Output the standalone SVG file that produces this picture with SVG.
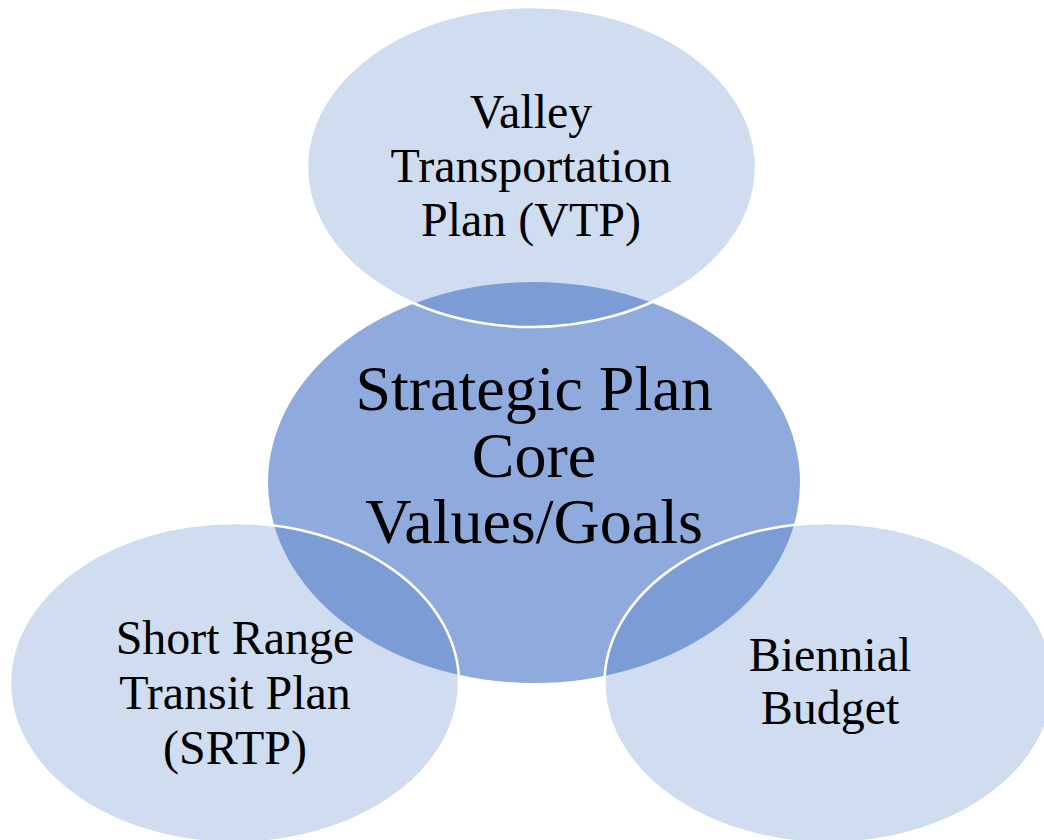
<svg xmlns="http://www.w3.org/2000/svg" width="1044" height="840" viewBox="0 0 1044 840">
<style>
.center{fill:#4472c4;fill-opacity:0.6;stroke:none}
.outer{fill:#4472c4;fill-opacity:0.25;stroke:#ffffff;stroke-width:2.5}
.lbl{font-family:"Liberation Serif","Times New Roman",serif;fill:#000000;text-anchor:middle}
.small{font-size:48px}
.big{font-size:64px}
</style>
<rect width="1044" height="840" fill="#ffffff"/>
<g id="core">
<ellipse class="center" cx="534" cy="482.5" rx="266" ry="200.5"/>
</g>
<g id="vtp">
<ellipse class="outer" cx="531.5" cy="167" rx="224.5" ry="160"/>
<text class="lbl small" x="531" y="128">Valley</text>
<text class="lbl small" x="531" y="182">Transportation</text>
<text class="lbl small" x="531" y="236">Plan (VTP)</text>
</g>
<g id="srtp">
<ellipse class="outer" cx="234.5" cy="683" rx="224.5" ry="160"/>
<text class="lbl small" x="235" y="654">Short Range</text>
<text class="lbl small" x="235" y="709">Transit Plan</text>
<text class="lbl small" x="235" y="764">(SRTP)</text>
</g>
<g id="budget">
<ellipse class="outer" cx="829" cy="683" rx="224.5" ry="160"/>
<text class="lbl small" x="830" y="671">Biennial</text>
<text class="lbl small" x="830" y="724">Budget</text>
</g>
<g id="core-label">
<text class="lbl big" x="534" y="410">Strategic Plan</text>
<text class="lbl big" x="534" y="477">Core</text>
<text class="lbl big" x="534" y="543">Values/Goals</text>
</g>
<g id="connectors"/>
</svg>
